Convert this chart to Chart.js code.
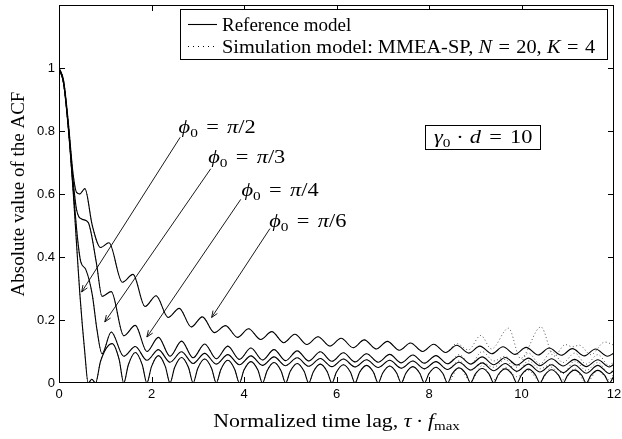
<!DOCTYPE html>
<html>
<head>
<meta charset="utf-8">
<script src="https://cdn.jsdelivr.net/npm/chart.js@4.4.1/dist/chart.umd.min.js"></script>
<style>
  html, body { margin: 0; padding: 0; background: #fff; }
</style>
</head>
<body>
<canvas id="acfChart" width="622" height="439"></canvas>
<script>
// axis ticks
const xTickVals = [0, 2, 4, 6, 8, 10, 12];
const yTickVals = [0, 0.2, 0.4, 0.6, 0.8, 1];

// reference model, phi0 = pi/6 (top curve)
const tauPi6 = [0, 0.1, 0.2, 0.3, 0.38, 0.45, 0.56, 0.72, 0.9, 1.08,
  1.37, 1.6, 1.86, 2.1, 2.36, 2.6, 2.86, 3.1, 3.36, 3.6, 3.86, 4.1, 4.36, 4.6, 4.86, 5.1,
  5.36, 5.6, 5.86, 6.1, 6.36, 6.6, 6.86, 7.1, 7.36, 7.6, 7.86, 8.1, 8.36, 8.6, 8.86, 9.1,
  9.36, 9.6, 9.86, 10.1, 10.36, 10.6, 10.86, 11.1, 11.36, 11.6, 11.86, 12];
const acfPi6 = [1, 0.96, 0.83, 0.67, 0.605, 0.6, 0.617, 0.5, 0.43, 0.445,
  0.32, 0.345, 0.243, 0.277, 0.208, 0.237, 0.178, 0.21, 0.16, 0.182, 0.145, 0.172, 0.138, 0.163, 0.128, 0.155,
  0.122, 0.147, 0.117, 0.142, 0.112, 0.137, 0.108, 0.132, 0.104, 0.127, 0.1, 0.123, 0.097, 0.12, 0.095, 0.117,
  0.093, 0.115, 0.091, 0.113, 0.089, 0.111, 0.088, 0.109, 0.086, 0.108, 0.085, 0.095];

// phi0 = pi/4
const tauPi4 = [0, 0.1, 0.2, 0.3, 0.38, 0.5, 0.63, 0.81, 0.93, 1.13,
  1.4, 1.65, 1.9, 2.15, 2.4, 2.65, 2.9, 3.15, 3.4, 3.65, 3.9, 4.15, 4.4, 4.65, 4.9, 5.15,
  5.4, 5.65, 5.9, 6.15, 6.4, 6.65, 6.9, 7.15, 7.4, 7.65, 7.9, 8.15, 8.4, 8.65, 8.9, 9.15,
  9.4, 9.65, 9.9, 10.15, 10.4, 10.65, 10.9, 11.15, 11.4, 11.65, 11.9, 12];
const acfPi4 = [1, 0.955, 0.82, 0.65, 0.55, 0.52, 0.51, 0.38, 0.275, 0.29,
  0.15, 0.183, 0.1, 0.145, 0.085, 0.133, 0.08, 0.124, 0.077, 0.117, 0.075, 0.111, 0.073, 0.106, 0.071, 0.102,
  0.07, 0.099, 0.069, 0.096, 0.067, 0.093, 0.066, 0.091, 0.064, 0.089, 0.063, 0.087, 0.061, 0.085, 0.06, 0.083,
  0.058, 0.081, 0.057, 0.079, 0.055, 0.077, 0.054, 0.075, 0.052, 0.074, 0.051, 0.06];

// phi0 = pi/3
const tauPi3 = [0, 0.1, 0.2, 0.3, 0.4, 0.47, 0.58, 0.72, 0.82, 0.93, 1.13,
  1.4, 1.65, 1.9, 2.15, 2.4, 2.65, 2.9, 3.15, 3.4, 3.65, 3.9, 4.15, 4.4, 4.65, 4.9, 5.15,
  5.4, 5.65, 5.9, 6.15, 6.4, 6.65, 6.9, 7.15, 7.4, 7.65, 7.9, 8.15, 8.4, 8.65, 8.9, 9.15,
  9.4, 9.65, 9.9, 10.15, 10.4, 10.65, 10.9, 11.15, 11.4, 11.65, 11.9, 12];
const acfPi3 = [1, 0.95, 0.815, 0.63, 0.46, 0.385, 0.36, 0.28, 0.17, 0.093, 0.162,
  0.085, 0.116, 0.072, 0.106, 0.066, 0.099, 0.062, 0.094, 0.06, 0.09, 0.058, 0.086, 0.056, 0.083, 0.055, 0.08,
  0.053, 0.078, 0.052, 0.076, 0.051, 0.074, 0.049, 0.072, 0.047, 0.07, 0.045, 0.068, 0.043, 0.066, 0.041, 0.064,
  0.039, 0.062, 0.037, 0.06, 0.035, 0.058, 0.033, 0.057, 0.031, 0.056, 0.03, 0.04];

// phi0 = pi/2 (bottom curve, touches zero)
const tauPi2 = [0, 0.1, 0.2, 0.31, 0.38, 0.45, 0.56, 0.63, 0.71, 0.79, 0.9, 1.15, 1.3,
  1.4, 1.5, 1.65, 1.8, 1.9, 2.0, 2.15, 2.3, 2.4, 2.5, 2.65, 2.8, 2.9, 3.0, 3.15, 3.3,
  3.4, 3.5, 3.65, 3.8, 3.9, 4.0, 4.15, 4.3, 4.4, 4.5, 4.65, 4.8, 4.9, 5.0, 5.15, 5.3,
  5.4, 5.5, 5.65, 5.8, 5.9, 6.0, 6.15, 6.3, 6.4, 6.5, 6.65, 6.8, 6.9, 7.0, 7.15, 7.3,
  7.4, 7.5, 7.65, 7.8, 7.9, 8.0, 8.15, 8.3, 8.4, 8.5, 8.65, 8.8, 8.9, 9.0, 9.15, 9.3,
  9.4, 9.5, 9.65, 9.8, 9.9, 10.0, 10.15, 10.3, 10.4, 10.5, 10.65, 10.8, 10.9, 11.0, 11.15, 11.3,
  11.4, 11.5, 11.65, 11.8, 11.9, 12];
const acfPi2 = [1, 0.95, 0.81, 0.6, 0.44, 0.284, 0.093, 0, 0.012, 0, 0.07, 0.125, 0.075,
  0, 0.058, 0.097, 0.058, 0, 0.052, 0.087, 0.052, 0, 0.049, 0.081, 0.049, 0, 0.046, 0.076, 0.046,
  0, 0.043, 0.072, 0.043, 0, 0.041, 0.068, 0.041, 0, 0.039, 0.065, 0.039, 0, 0.037, 0.062, 0.037,
  0, 0.036, 0.06, 0.036, 0, 0.035, 0.058, 0.035, 0, 0.034, 0.056, 0.034, 0, 0.032, 0.054, 0.032,
  0, 0.031, 0.052, 0.031, 0, 0.03, 0.05, 0.03, 0, 0.029, 0.048, 0.029, 0, 0.028, 0.046, 0.028,
  0, 0.027, 0.045, 0.027, 0, 0.026, 0.044, 0.026, 0, 0.025, 0.042, 0.025, 0, 0.025, 0.041, 0.025,
  0, 0.024, 0.04, 0.024, 0, 0.024];

// simulation model: follows the reference up to ~8.4, then drifts away
const simSplit = 8.45;
const simTailTauTop = [8.6, 8.85, 9.12, 9.35, 9.72, 9.98, 10.42, 10.7, 10.95, 11.1, 11.25, 11.5, 11.8, 12];
const simTailPi6 = [0.125, 0.105, 0.151, 0.108, 0.174, 0.078, 0.178, 0.085, 0.122, 0.115, 0.12, 0.09, 0.13, 0.12];
const simTailTau = [8.65, 8.9, 9.15, 9.4, 9.65, 9.9, 10.15, 10.4, 10.65, 10.9, 11.15, 11.4, 11.65, 11.9, 12];
const simTailPi4 = [0.09, 0.06, 0.1, 0.07, 0.085, 0.05, 0.095, 0.06, 0.1, 0.065, 0.095, 0.06, 0.09, 0.055, 0.07];
const simTailPi3 = [0.07, 0.04, 0.065, 0.05, 0.075, 0.035, 0.07, 0.045, 0.06, 0.03, 0.07, 0.04, 0.065, 0.03, 0.05];
const simTailPi2 = [0.05, 0.005, 0.055, 0.01, 0.05, 0.02, 0.04, 0.005, 0.05, 0.01, 0.045, 0, 0.04, 0.01, 0.03];

// annotations (data coordinates)
const phiNames = ['2', '3', '4', '6'];
const phiLabelAt = [[3.42, 0.812], [4.06, 0.717], [4.78, 0.612], [5.38, 0.513]];
const arrowFrom = [[2.62, 0.78], [3.28, 0.68], [3.93, 0.583], [4.56, 0.49]];
const arrowTo = [[0.49, 0.289], [0.99, 0.194], [1.9, 0.146], [3.3, 0.208]];
const gammaBoxAt = [9.15, 0.78];

const SERIF = '"Liberation Serif", "Times New Roman", serif';
const SANS = '"Liberation Sans", Arial, sans-serif';
const fnt = (size, style) => (style || '') + ' ' + size + 'px ' + SERIF;

function pts(tau, acf) {
  return tau.map((t, i) => ({ x: t, y: acf[i] }));
}
function simPts(tau, acf, tailTau, tailAcf) {
  const p = [];
  tau.forEach((t, i) => { if (t <= simSplit) p.push({ x: t, y: acf[i] }); });
  tailTau.forEach((t, i) => p.push({ x: t, y: tailAcf[i] }));
  return p;
}

// mixed-font text; parts are [text, font, dy] or a number (gap in px)
function rich(ctx, parts, x, y, align, sx) {
  let w = 0;
  parts.forEach(p => {
    if (typeof p === 'number') { w += p; return; }
    ctx.font = p[1]; w += ctx.measureText(p[0]).width;
  });
  ctx.save();
  ctx.translate(x, y);
  ctx.scale(sx || 1, 1);
  ctx.textAlign = 'left';
  let cx = align === 'center' ? -w / 2 : 0;
  parts.forEach(p => {
    if (typeof p === 'number') { cx += p; return; }
    ctx.font = p[1];
    ctx.fillText(p[0], cx, p[2] || 0);
    cx += ctx.measureText(p[0]).width;
  });
  ctx.restore();
  return w * (sx || 1);
}

function arrow(ctx, x0, y0, x1, y1) {
  ctx.beginPath();
  ctx.moveTo(x0, y0);
  ctx.lineTo(x1, y1);
  const ang = Math.atan2(y1 - y0, x1 - x0);
  const len = 7, spread = 0.38;
  ctx.moveTo(x1 - len * Math.cos(ang - spread), y1 - len * Math.sin(ang - spread));
  ctx.lineTo(x1, y1);
  ctx.lineTo(x1 - len * Math.cos(ang + spread), y1 - len * Math.sin(ang + spread));
  ctx.stroke();
}

const decor = {
  id: 'decor',
  afterDraw(chart) {
    const { ctx, chartArea: a, scales: { x, y } } = chart;
    const X = v => x.getPixelForValue(v), Y = v => y.getPixelForValue(v);
    ctx.save();
    ctx.strokeStyle = '#000';
    ctx.fillStyle = '#000';
    ctx.lineWidth = 1;
    ctx.setLineDash([]);

    // frame + inner ticks
    ctx.strokeRect(a.left + 0.5, a.top + 0.5, a.right - a.left - 1, a.bottom - a.top - 1);
    ctx.beginPath();
    xTickVals.forEach(v => {
      if (v <= x.min || v >= x.max) return;
      const px = Math.round(X(v)) + 0.5;
      ctx.moveTo(px, a.bottom); ctx.lineTo(px, a.bottom - 6);
      ctx.moveTo(px, a.top); ctx.lineTo(px, a.top + 6);
    });
    yTickVals.forEach(v => {
      if (v <= y.min || v >= y.max) return;
      const py = Math.round(Y(v)) + 0.5;
      ctx.moveTo(a.left, py); ctx.lineTo(a.left + 6, py);
      ctx.moveTo(a.right, py); ctx.lineTo(a.right - 6, py);
    });
    ctx.stroke();

    // phi0 labels and arrows
    ctx.lineWidth = 0.9;
    phiNames.forEach((n, i) => {
      arrow(ctx, X(arrowFrom[i][0]), Y(arrowFrom[i][1]), X(arrowTo[i][0]), Y(arrowTo[i][1]));
      rich(ctx, [['\u03D5', fnt(19, 'italic')], ['0', fnt(13), 4], 7, ['=', fnt(19)], 7,
        ['\u03C0', fnt(19, 'italic')], ['/' + n, fnt(19)]],
        X(phiLabelAt[i][0]), Y(phiLabelAt[i][1]) + 6, 'center', 1.18);
    });

    // gamma0 . d = 10 box
    const gx = X(gammaBoxAt[0]), gy = Y(gammaBoxAt[1]);
    ctx.fillStyle = '#fff';
    ctx.fillRect(gx - 57, gy - 12, 115, 24);
    ctx.lineWidth = 1;
    ctx.strokeRect(Math.round(gx - 57) + 0.5, Math.round(gy - 12) + 0.5, 115, 24);
    ctx.fillStyle = '#000';
    rich(ctx, [['\u03B3', fnt(19, 'italic')], ['0', fnt(13), 4], 5, ['\u00B7', fnt(19)], 5,
      ['d', fnt(19, 'italic')], 7, ['=', fnt(19)], 7, ['10', fnt(19)]], gx + 1, gy + 6, 'center', 1.18);

    // legend
    const lx0 = Math.round(X(2.616)), lx1 = Math.round(X(11.85));
    const ly0 = Math.round(Y(1.186)), ly1 = Math.round(Y(1.028));
    ctx.fillStyle = '#fff';
    ctx.fillRect(lx0, ly0, lx1 - lx0, ly1 - ly0);
    ctx.strokeRect(lx0 + 0.5, ly0 + 0.5, lx1 - lx0, ly1 - ly0);
    ctx.fillStyle = '#000';
    const r1 = ly0 + 15.5, r2 = ly0 + 37.5;
    ctx.beginPath();
    ctx.lineWidth = 1.1;
    ctx.moveTo(lx0 + 8, r1); ctx.lineTo(lx0 + 37, r1);
    ctx.stroke();
    ctx.beginPath();
    ctx.setLineDash([1, 4]);
    ctx.moveTo(lx0 + 8, r2); ctx.lineTo(lx0 + 38, r2);
    ctx.stroke();
    ctx.setLineDash([]);
    rich(ctx, [['Reference model', fnt(19)]], lx0 + 42, r1 + 6, 'left');
    rich(ctx, [['Simulation model: MMEA-SP, ', fnt(19)], ['N', fnt(19, 'italic')], 6, ['=', fnt(19)], 6,
      ['20,', fnt(19)], 5, ['K', fnt(19, 'italic')], 6, ['=', fnt(19)], 6, ['4', fnt(19)]],
      lx0 + 42, r2 + 6, 'left', 1.07);

    // axis titles
    rich(ctx, [['Normalized time lag, ', fnt(19)], ['\u03C4', fnt(19, 'italic')], 4, ['\u00B7', fnt(19)], 4,
      ['f', fnt(19, 'italic')], ['max', fnt(13), 3]], (a.left + a.right) / 2, 427, 'center', 1.15);
    ctx.save();
    ctx.translate(24, (a.top + a.bottom) / 2);
    ctx.rotate(-Math.PI / 2);
    rich(ctx, [['Absolute value of the ACF', fnt(19)]], 0, 0, 'center');
    ctx.restore();

    ctx.restore();
  }
};

const solid = (data) => ({
  data, borderColor: '#000', borderWidth: 1.1, pointRadius: 0, fill: false,
  cubicInterpolationMode: 'monotone', order: 0
});
const dotted = (data) => ({
  data, borderColor: '#555', borderWidth: 1, borderDash: [1, 2.5], pointRadius: 0, fill: false,
  cubicInterpolationMode: 'monotone', order: 1
});

new Chart(document.getElementById('acfChart'), {
  type: 'line',
  data: {
    datasets: [
      solid(pts(tauPi6, acfPi6)),
      solid(pts(tauPi4, acfPi4)),
      solid(pts(tauPi3, acfPi3)),
      solid(pts(tauPi2, acfPi2)),
      dotted(simPts(tauPi6, acfPi6, simTailTauTop, simTailPi6)),
      dotted(simPts(tauPi4, acfPi4, simTailTau, simTailPi4)),
      dotted(simPts(tauPi3, acfPi3, simTailTau, simTailPi3)),
      dotted(simPts(tauPi2, acfPi2, simTailTau, simTailPi2))
    ]
  },
  options: {
    responsive: false,
    animation: false,
    layout: { padding: { left: 0, right: 8, top: 5, bottom: 0 } },
    plugins: { legend: { display: false }, tooltip: { enabled: false } },
    scales: {
      x: {
        type: 'linear', min: 0, max: 12,
        afterBuildTicks: s => { s.ticks = xTickVals.map(v => ({ value: v })); },
        afterFit: s => { s.height = 56; s.paddingLeft = 0; s.paddingRight = 0; },
        grid: { display: false, drawTicks: false },
        border: { display: false },
        ticks: { color: '#000', padding: 4, maxRotation: 0, font: { family: SANS, size: 13 },
          callback: v => String(v) }
      },
      y: {
        type: 'linear', min: 0, max: 1.2,
        afterBuildTicks: s => { s.ticks = yTickVals.map(v => ({ value: v })); },
        afterFit: s => { s.width = 59; s.paddingTop = 0; s.paddingBottom = 0; },
        grid: { display: false, drawTicks: false },
        border: { display: false },
        ticks: { color: '#000', padding: 4, font: { family: SANS, size: 13 },
          callback: v => String(Math.round(v * 10) / 10) }
      }
    }
  },
  plugins: [decor]
});
</script>
</body>
</html>
